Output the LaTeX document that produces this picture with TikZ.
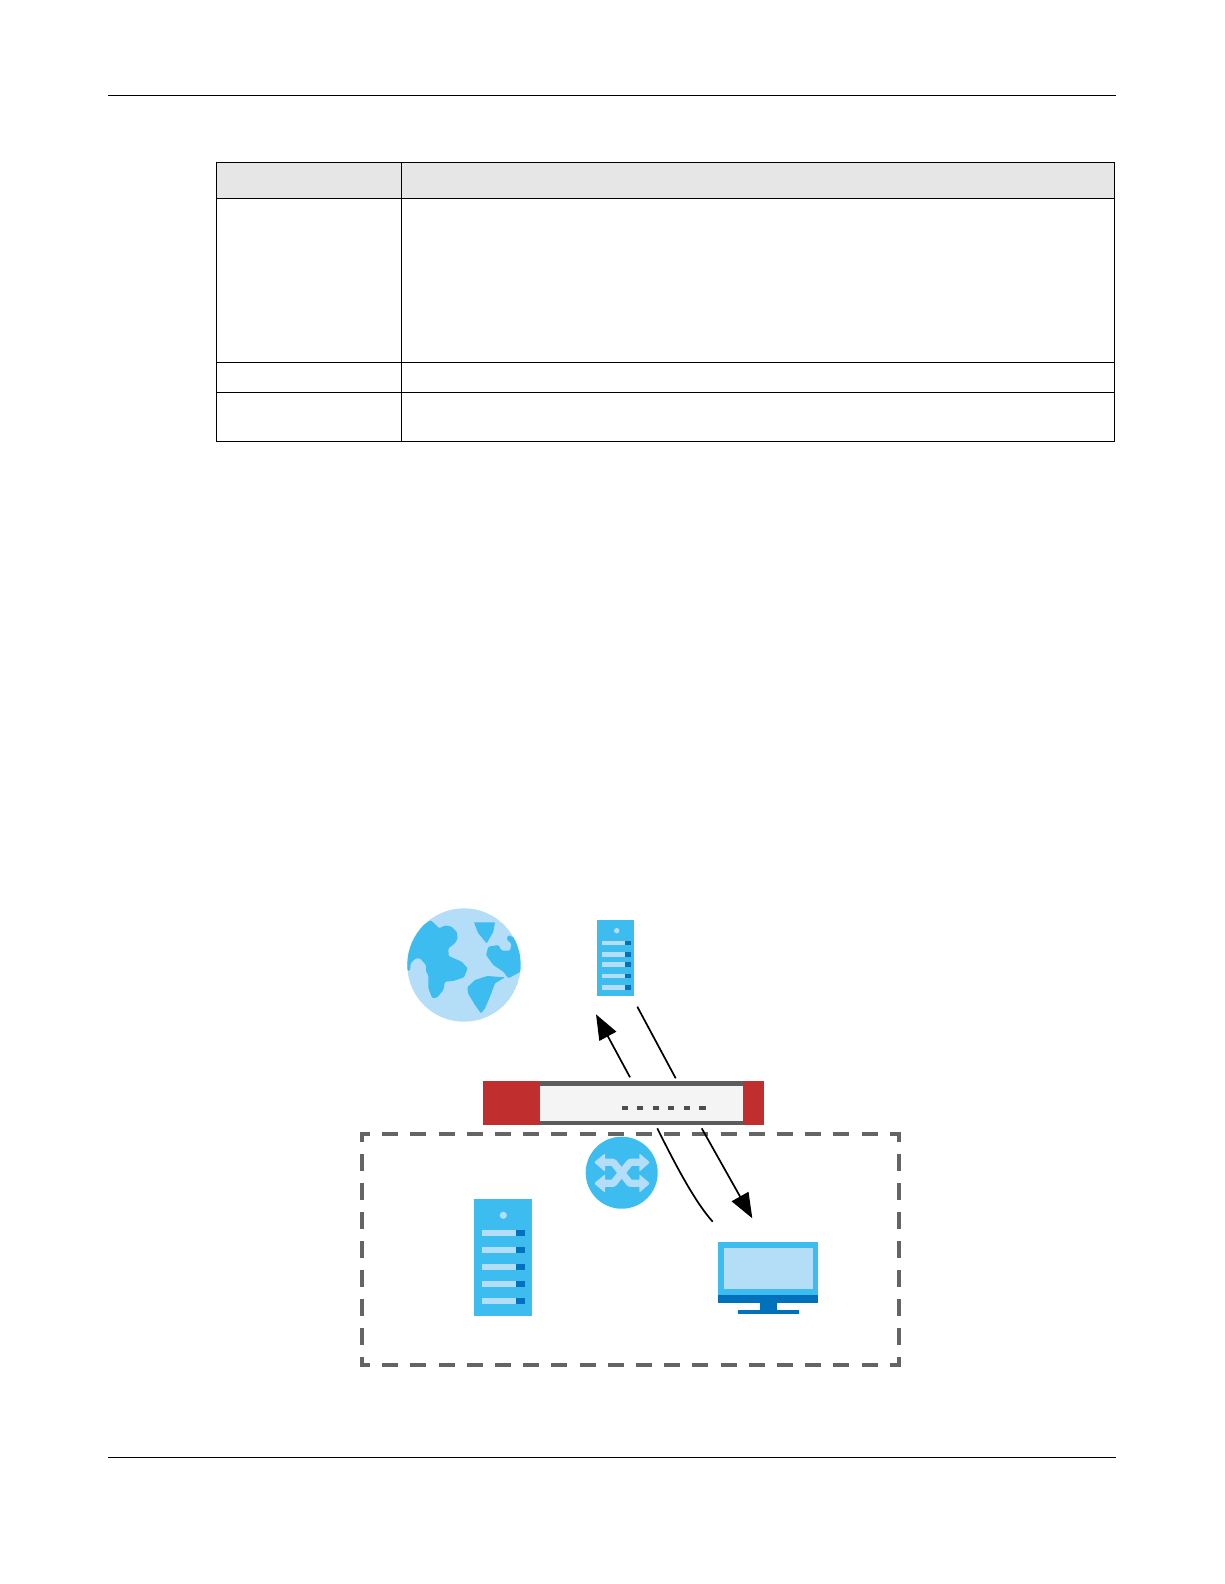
\documentclass[tikz,border=0pt]{standalone}
\usetikzlibrary{arrows.meta}
\definecolor{iconblue}{HTML}{3DBCF0}
\definecolor{iconlight}{HTML}{B4DEF8}
\definecolor{icondark}{HTML}{0072BC}
\definecolor{fwred}{HTML}{C02F2E}
\definecolor{fwgrey}{HTML}{5C5C5C}
\definecolor{fwbg}{HTML}{F4F4F4}
\definecolor{headbg}{HTML}{E6E6E6}
\tikzset{
  rule/.style={draw=black,line width=1.15pt},
  cell/.style={draw=black,line width=1.15pt},
  flow/.style={draw=black,line width=1.7pt},
  flowtip/.style={flow,-{Triangle[length=25pt,width=19pt]}},
  zone/.style={draw=fwgrey!95!white,line width=4pt,dash pattern=on 16pt off 12.2pt,line cap=butt}
}
\begin{document}
\begin{tikzpicture}[x=1pt,y=-1pt]
\useasboundingbox (0,0) rectangle (1224,1584);
\fill[white] (0,0) rectangle (1224,1584);
% page rules
\coordinate (rtl) at (108,95.5); \coordinate (rtr) at (1116,95.5);
\coordinate (rbl) at (108,1457.5); \coordinate (rbr) at (1116,1457.5);
\draw[rule] (rtl) -- (rtr);
\draw[rule] (rbl) -- (rbr);
% table
\fill[headbg] (216.5,162.5) rectangle (1114.5,198.5);
\draw[cell] (216.5,162.5) rectangle (1114.5,441.5);
\draw[cell] (401.5,162.5) -- (401.5,441.5);
\draw[cell] (216.5,198.5) -- (1114.5,198.5);
\draw[cell] (216.5,362.5) -- (1114.5,362.5);
\draw[cell] (216.5,392.5) -- (1114.5,392.5);
% globe
\begin{scope}
\clip (464,965) circle[radius=56.7];
\fill[iconlight] (464,965) circle[radius=56.7];
\begin{scope}[shift={(400,900)},x=0.3333pt,y=-0.3333pt]
\fill[iconblue,rounded corners=1.2pt] (92,60) -- (118,85) -- (135,76) -- (155,80) -- (170,95) -- (173,115) -- (165,130) -- (145,145) -- (146,168) -- (185,185) -- (203,205) -- (192,232) -- (160,243) -- (135,245) -- (130,270) -- (112,292) -- (97,295) -- (85,265) -- (85,225) -- (78,215) -- (78,195) -- (60,175) -- (45,176) -- (32,190) -- (30,212) -- (10,212) -- (10,150) -- (50,90) -- cycle;
\fill[iconblue,rounded corners=0.5pt] (222,67) -- (285,67) -- (280,95) -- (260,130) -- (235,100) -- cycle;
\fill[iconblue,rounded corners=1.2pt] (325,105) -- (345,115) -- (375,170) -- (362,215) -- (325,235) -- (310,215) -- (280,195) -- (258,165) -- (265,140) -- (295,135) -- (305,152) -- (330,152) -- (335,132) -- (320,118) -- cycle;
\fill[iconblue,rounded corners=0.8pt] (202,262) -- (225,240) -- (262,228) -- (315,232) -- (285,250) -- (272,285) -- (255,325) -- (243,340) -- (225,315) -- (205,282) -- cycle;
\end{scope}
\end{scope}
% small server
\fill[iconblue] (597,920) rectangle (634.3,996);
\fill[iconlight] (616.7,930.7) circle[radius=2.7];
\foreach \yy in {943,954.3,964.7,976,987.3}{
  \fill[iconlight] (602,\yy-2.3) rectangle (625,\yy+2.3);
  \fill[icondark] (625,\yy-2.3) rectangle (631,\yy+2.3);
}
% firewall
\fill[fwbg] (540,1081) rectangle (743,1125.3);
\fill[fwgrey] (540,1081) rectangle (743,1085.5);
\fill[fwgrey] (540,1120.8) rectangle (743,1125.3);
\fill[fwred] (483,1081) rectangle (540,1125.3);
\fill[fwred] (743,1081) rectangle (764,1125.3);
\foreach \xx in {625,640,656,671,687,702.5}{
  \fill[fwgrey!85!black] (\xx-3.4,1106.3) rectangle (\xx+3.4,1110.3);
}
% dashed zone
\draw[zone,dash phase=6pt] (360,1134) -- (900.5,1134);
\draw[zone,dash phase=6pt] (360,1365) -- (900.5,1365);
\draw[zone,dash pattern=on 17pt off 12pt,dash phase=7pt] (362,1132) -- (362,1367);
\draw[zone,dash pattern=on 17pt off 12pt,dash phase=7pt] (898.5,1132) -- (898.5,1367);
% switch
\fill[iconblue] (621.7,1172.7) circle[radius=36];
\begin{scope}[shift={(580,1130)},x=0.3333pt,y=-0.3333pt]
\draw[iconlight,line width=7.3pt,line join=round] (70,97) -- (100,97) -- (150,160) -- (182,160);
\draw[iconlight,line width=7.3pt,line join=round] (70,160) -- (100,160) -- (150,97) -- (182,97);
\fill[iconlight,rounded corners=1pt] (42,97) -- (75,70) -- (75,125) -- cycle;
\fill[iconlight,rounded corners=1pt] (42,160) -- (75,133) -- (75,188) -- cycle;
\fill[iconlight,rounded corners=1pt] (210,97) -- (178,70) -- (178,125) -- cycle;
\fill[iconlight,rounded corners=1pt] (210,160) -- (178,133) -- (178,188) -- cycle;
\end{scope}
% large server
\fill[iconblue] (474,1199) rectangle (531.7,1315.7);
\fill[iconlight] (503.3,1215.3) circle[radius=3.6];
\foreach \yy in {1232.7,1250,1267,1283.7,1300.7}{
  \fill[iconlight] (482.3,\yy-3.2) rectangle (515.7,\yy+3.2);
  \fill[icondark] (515.7,\yy-3.2) rectangle (525,\yy+3.2);
}
% monitor
\fill[iconblue] (718,1242) rectangle (817.7,1295);
\fill[iconlight] (723.7,1247.7) rectangle (813,1289);
\fill[icondark] (718,1294.7) rectangle (817.7,1303.3);
\fill[icondark] (760,1303) rectangle (776.7,1310);
\fill[icondark] (738,1310) rectangle (799,1313.5);
% connectors
\coordinate (a1s) at (630,1077.3); \coordinate (a1e) at (596,1014.3);
\coordinate (l2s) at (637.3,1006.7); \coordinate (l2e) at (675.7,1078.3);
\coordinate (a2s) at (701.7,1128.3); \coordinate (a2e) at (752.3,1218.3);
\coordinate (l3s) at (657.3,1128.3); \coordinate (l3e) at (712.7,1221.7);
\draw[flowtip] (a1s) -- (a1e);
\draw[flow] (l2s) -- (l2e);
\draw[flowtip] (a2s) -- (a2e);
\draw[flow] (l3s) .. controls (678,1170) and (696,1203) .. (l3e);
\end{tikzpicture}
\end{document}
